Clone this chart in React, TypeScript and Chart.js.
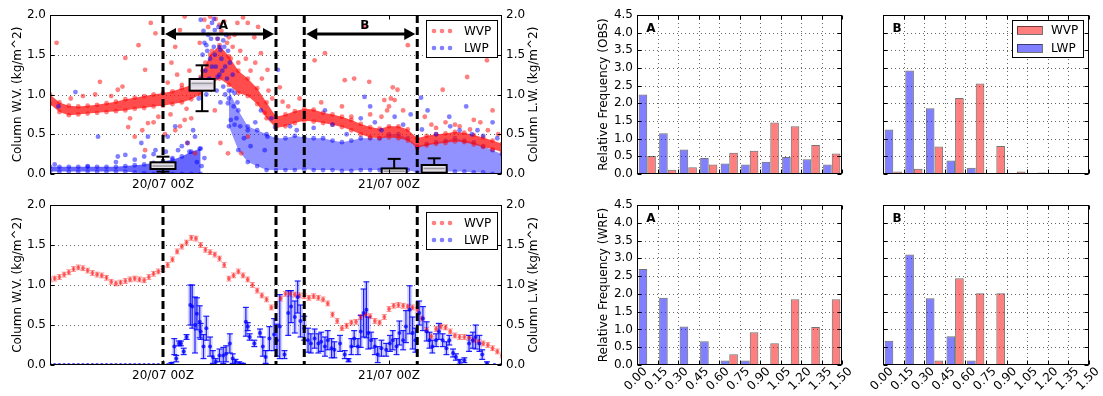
import React, { useEffect, useRef } from 'react';
import { Chart, registerables } from 'chart.js';

Chart.register(...registerables);

const W = 1103;
const H = 396;
const FAMILY = '"DejaVu Sans", "Liberation Sans", sans-serif';
const RED = 'rgba(255,0,0,0.5)';
const BLUE = 'rgba(0,0,255,0.5)';

// ---------------- time axis (hours relative to 20/07 00Z) ----------------
const timeMin = -12;
const timeMax = 36;
const timeTickHours = [0, 24];
const timeTickLabels = ['20/07 00Z', '21/07 00Z'];
const columnTicks = [0, 0.5, 1.0, 1.5, 2.0];
const periodStart = [0, 15];
const periodEnd = [12, 27];
const periodNames = ['A', 'B'];
const arrowLevel = 1.76;
const seriesNames = ['WVP', 'LWP'];
const leftAxisTitle = 'Column W.V. (kg/m^2)';
const rightAxisTitle = 'Column L.W. (kg/m^2)';

// ---------------- OBS time series (top panel) ----------------
const obsWvpBandHours = [-12, -11, -10, -9, -8, -7, -6, -5, -4, -3, -2, -1, 0, 1, 2, 3, 4, 5, 6, 7, 8, 9, 10, 11, 12, 13, 14, 15, 16, 17, 18, 19, 20, 21, 22, 23, 24, 25, 26, 27, 28, 29, 30, 31, 32, 33, 34, 35, 36];
const obsWvpLow = [0.88, 0.78, 0.74, 0.75, 0.76, 0.77, 0.78, 0.79, 0.80, 0.82, 0.83, 0.85, 0.86, 0.88, 0.90, 0.94, 1.00, 1.12, 1.20, 1.12, 1.02, 0.98, 0.88, 0.70, 0.58, 0.60, 0.64, 0.67, 0.66, 0.64, 0.62, 0.59, 0.55, 0.50, 0.46, 0.45, 0.46, 0.45, 0.42, 0.33, 0.36, 0.38, 0.39, 0.41, 0.40, 0.37, 0.34, 0.31, 0.28];
const obsWvpHigh = [1.00, 0.90, 0.86, 0.85, 0.86, 0.87, 0.89, 0.91, 0.94, 0.96, 0.98, 1.00, 1.02, 1.04, 1.08, 1.12, 1.22, 1.50, 1.62, 1.48, 1.30, 1.20, 1.08, 0.90, 0.72, 0.75, 0.79, 0.82, 0.81, 0.77, 0.75, 0.72, 0.68, 0.63, 0.59, 0.57, 0.60, 0.60, 0.56, 0.45, 0.48, 0.50, 0.51, 0.53, 0.52, 0.49, 0.46, 0.42, 0.38];

const obsLwpEarlyHours = [-12, -11, -10, -9, -8, -7, -6, -5, -4, -3, -2, -1, 0, 1, 2, 3, 4];
const obsLwpEarlyLow = [0.03, 0.03, 0.03, 0.03, 0.03, 0.03, 0.03, 0.03, 0.03, 0.02, 0.01, 0.0, 0.0, 0.0, 0.0, 0.0, 0.0];
const obsLwpEarlyHigh = [0.09, 0.09, 0.09, 0.09, 0.09, 0.09, 0.09, 0.09, 0.10, 0.11, 0.12, 0.14, 0.16, 0.18, 0.22, 0.28, 0.32];
const obsLwpLateHours = [7, 8, 9, 10, 11, 12, 13, 14, 15, 16, 17, 18, 19, 20, 21, 22, 23, 24, 25, 26, 27, 28, 29, 30, 31, 32, 33, 34, 35, 36];
const obsLwpLateLow = [0.6, 0.3, 0.15, 0.1, 0.05, 0.05, 0.05, 0.05, 0.06, 0.05, 0.05, 0.05, 0.04, 0.04, 0.05, 0.05, 0.05, 0.05, 0.05, 0.05, 0.02, 0.02, 0.03, 0.03, 0.03, 0.03, 0.02, 0.02, 0.0, 0.0];
const obsLwpLateHigh = [1.05, 0.8, 0.6, 0.55, 0.5, 0.45, 0.45, 0.48, 0.46, 0.45, 0.45, 0.42, 0.40, 0.42, 0.45, 0.45, 0.45, 0.50, 0.50, 0.45, 0.35, 0.38, 0.40, 0.42, 0.45, 0.42, 0.40, 0.35, 0.30, 0.25];

const obsWvpScatter = [
  [-11.3, 1.65], [-6.7, 1.16], [-4.8, 1.06], [-4.0, 1.46], [-2.6, 1.62], [-1.9, 1.31], [-1.3, 1.90], [-0.8, 1.77], [-1.6, 0.64], [-0.5, 0.72],
  [-3.0, 0.47], [-1.9, 0.30], [-3.7, 0.59], [0.9, 1.40], [1.3, 1.60], [1.8, 1.81], [2.3, 1.98], [1.3, 0.55], [2.3, 0.68], [2.6, 0.39],
  [3.4, 0.26], [3.9, 1.65], [4.4, 1.94], [5.5, 0.80], [6.1, 0.39], [6.9, 0.26], [7.9, 1.90], [9.0, 1.90], [9.7, 1.72], [10.4, 1.52],
  [10.1, 1.85], [11.1, 1.31], [10.8, 0.77], [9.0, 0.47], [8.3, 0.26], [12.4, 1.09], [12.7, 0.91], [17.2, 1.52], [16.1, 1.43], [19.3, 1.18],
  [20.3, 1.20], [21.9, 1.16], [23.5, 0.93], [24.4, 1.09], [24.9, 1.06], [24.6, 0.93], [24.0, 0.85], [26.0, 1.62], [21.4, 1.85], [29.7, 1.06],
  [32.3, 1.22], [34.4, 1.43], [35.0, 0.80], [33.0, 0.68], [27.8, 0.72], [28.5, 0.62], [33.7, 0.65], [31.0, 0.62], [23.2, 0.72], [20.0, 0.72],
  [4.5, 1.40], [4.8, 1.85], [5.2, 1.55], [5.6, 1.95], [6.2, 1.80], [6.8, 1.65], [7.2, 1.45], [7.6, 1.75], [8.2, 1.55], [8.8, 1.45],
  [9.3, 1.30], [9.8, 1.40], [10.5, 1.20], [11.2, 1.05], [11.6, 0.95], [-3.5, 0.70], [-2.2, 0.55], [-1.0, 0.65], [0.2, 0.50], [0.8, 0.75],
  [1.8, 0.60], [2.5, 0.82], [3.0, 0.70], [13.3, 0.85], [14.5, 0.95], [16.8, 0.90], [19.0, 0.85], [22.0, 0.75], [23.8, 0.80], [24.2, 0.95],
  [25.5, 0.80], [29.0, 0.58], [30.0, 0.65], [31.5, 0.60], [32.6, 0.56], [34.5, 0.55], [35.6, 0.50], [-8.5, 0.98], [-7.2, 1.00], [-5.5, 0.98],
  [-4.3, 1.10], [-9.8, 0.95], [0.5, 1.15], [1.5, 1.25], [2.0, 1.12], [2.8, 1.30], [5.0, 1.98], [6.5, 1.92], [8.5, 1.97], [5.8, 1.70],
  [6.0, 1.88], [7.0, 1.72], [4.2, 1.30], [7.4, 1.60], [8.0, 1.40],
];

const obsLwpScatter = [
  [-9.3, 1.03], [-11.1, 0.85], [-6.9, 0.47], [-4.8, 0.22], [-4.0, 0.24], [-2.3, 0.39], [-1.6, 0.47], [-0.8, 0.30], [0.5, 0.47], [1.3, 0.60],
  [1.6, 0.30], [2.6, 0.39], [3.4, 0.47], [4.0, 1.94], [4.4, 1.65], [5.5, 1.81], [6.1, 1.56], [6.6, 1.35], [5.1, 1.06], [5.8, 1.22],
  [6.9, 0.89], [7.2, 0.68], [7.6, 1.02], [9.0, 0.55], [10.4, 0.80], [11.1, 0.47], [11.9, 0.59], [12.2, 1.31], [21.4, 0.97], [17.2, 0.80],
  [22.0, 0.85], [24.6, 0.72], [27.4, 0.96], [28.1, 0.80], [32.2, 0.85], [30.4, 0.72], [33.4, 0.55], [35.0, 0.65], [4.2, 1.5], [4.5, 1.3],
  [4.8, 1.75], [5.0, 1.45], [5.2, 1.9], [5.4, 1.6], [5.6, 1.35], [5.8, 1.7], [6.0, 1.25], [6.2, 1.45], [6.4, 1.1], [6.5, 1.6],
  [6.8, 1.2], [7.0, 0.95], [7.3, 1.05], [7.5, 0.85], [7.8, 0.7], [4.6, 1.0], [5.3, 1.15], [6.1, 0.9], [3.8, 0.95], [4.0, 1.2],
  [13.5, 0.6], [14.2, 0.55], [16.0, 0.58], [18.0, 0.62], [19.5, 0.5], [21.0, 0.7], [22.5, 0.65], [23.2, 0.55], [25.5, 0.62], [26.3, 0.75],
  [27.5, 0.56], [29.0, 0.5], [30.5, 0.6], [31.5, 0.55], [32.8, 0.5], [34.0, 0.48], [35.5, 0.45], [-11.5, 0.12], [-8.0, 0.1], [-5.0, 0.15],
  [-3.0, 0.18], [-2.0, 0.22], [-1.0, 0.25], [0.3, 0.28], [1.0, 0.2], [2.0, 0.35], [2.8, 0.28], [3.2, 0.55], [8.2, 0.6], [8.6, 0.45],
  [9.3, 0.35], [9.8, 0.65], [10.8, 0.3], [11.5, 0.7], [4.7, 1.55], [5.1, 1.7], [5.5, 1.5], [5.9, 1.85], [6.3, 1.3], [6.7, 1.75],
  [7.1, 1.4], [4.9, 1.2], [5.7, 1.05], [6.6, 1.0], [4.3, 1.8], [7.4, 1.25], [6.9, 1.55], [5.4, 1.95], [6.0, 1.6], [4.6, 1.62],
  [5.2, 1.35], [6.4, 1.68], [7.6, 0.62], [7.9, 0.9], [4.4, 0.2], [4.1, 0.1], [3.6, 0.15], [3.9, 0.32],
];

// box plots drawn in the OBS panel
const boxHours = [0, 4.15, 24.55, 28.8];
const boxLow = [0.03, 0.79, 0.0, 0.0];
const boxQ1 = [0.063, 1.048, 0.0, 0.017];
const boxMedian = [0.1, 1.14, 0.035, 0.07];
const boxQ3 = [0.147, 1.195, 0.07, 0.113];
const boxHigh = [0.218, 1.367, 0.19, 0.197];

// ---------------- WRF time series (bottom panel) ----------------
const wrfWvpHours = [-12, -11.5, -11, -10.5, -10, -9.5, -9, -8.5, -8, -7.5, -7, -6.5, -6, -5.5, -5, -4.5, -4, -3.5, -3, -2.5, -2, -1.5, -1, -0.5, 0, 0.5, 1, 1.5, 2, 2.5, 3, 3.5, 4, 4.5, 5, 5.5, 6, 6.5, 7, 7.5, 8, 8.5, 9, 9.5, 10, 10.5, 11, 11.5, 12, 12.5, 13, 13.5, 14, 14.5, 15, 15.5, 16, 16.5, 17, 17.5, 18, 18.5, 19, 19.5, 20, 20.5, 21, 21.5, 22, 22.5, 23, 23.5, 24, 24.5, 25, 25.5, 26, 26.5, 27, 27.5, 28, 28.5, 29, 29.5, 30, 30.5, 31, 31.5, 32, 32.5, 33, 33.5, 34, 34.5, 35, 35.5, 36];
const wrfWvpValues = [1.07, 1.08, 1.10, 1.13, 1.16, 1.20, 1.22, 1.21, 1.18, 1.15, 1.13, 1.12, 1.09, 1.04, 1.02, 1.03, 1.05, 1.07, 1.08, 1.07, 1.06, 1.10, 1.14, 1.17, 1.20, 1.25, 1.32, 1.42, 1.48, 1.53, 1.59, 1.58, 1.50, 1.44, 1.41, 1.38, 1.33, 1.25, 1.08, 1.12, 1.17, 1.12, 1.07, 1.00, 0.93, 0.87, 0.82, 0.72, 0.76, 0.83, 0.89, 0.89, 0.88, 0.87, 0.86, 0.84, 0.86, 0.84, 0.82, 0.77, 0.63, 0.55, 0.46, 0.49, 0.53, 0.54, 0.60, 0.63, 0.61, 0.55, 0.53, 0.60, 0.70, 0.74, 0.75, 0.74, 0.73, 0.72, 0.69, 0.58, 0.44, 0.36, 0.45, 0.48, 0.47, 0.42, 0.37, 0.35, 0.35, 0.34, 0.31, 0.29, 0.27, 0.25, 0.21, 0.17, 0.12];
const wrfWvpSpread = 0.03;

// [hour, value, error half-range]
const wrfLwp = [
  [-12, 0, 0], [-11.5, 0, 0], [-11, 0, 0], [-10.5, 0, 0], [-10, 0, 0], [-9.5, 0, 0], [-9, 0, 0], [-8.5, 0, 0], [-8, 0, 0], [-7.5, 0, 0],
  [-7, 0, 0], [-6.5, 0, 0], [-6, 0, 0], [-5.5, 0, 0], [-5, 0, 0], [-4.5, 0, 0], [-4, 0, 0], [-3.5, 0, 0], [-3, 0, 0], [-2.5, 0, 0],
  [-2, 0, 0], [-1.5, 0, 0], [-1, 0, 0], [-0.5, 0, 0], [0, 0, 0], [0.5, 0, 0], [0.9, 0.02, 0.01],
  [1.2, 0.23, 0.1], [1.4, 0.08, 0.04], [1.7, 0.27, 0.03], [1.9, 0.27, 0.03], [2.2, 0.17, 0.04], [2.5, 0.35, 0.03], [2.9, 0.75, 0.25], [3.1, 0.73, 0.27],
  [3.4, 0.50, 0.35], [3.6, 0.64, 0.2], [3.9, 0.54, 0.2], [4.0, 0.42, 0.1], [4.3, 0.23, 0.15], [4.6, 0.46, 0.15], [5.0, 0.23, 0.12], [5.3, 0.10, 0.08],
  [5.6, 0.04, 0.04], [6.0, 0.12, 0.08], [6.4, 0.12, 0.1], [6.7, 0.14, 0.1], [7.1, 0.27, 0.12], [7.4, 0.08, 0.06], [7.7, 0.04, 0.03], [8.1, 0.02, 0.02],
  [8.5, 0.01, 0.01], [8.8, 0.54, 0.18], [9.0, 0.48, 0.05], [9.2, 0.35, 0.04], [9.7, 0.27, 0.04], [10.3, 0.40, 0.05], [10.6, 0.23, 0.12], [10.9, 0.10, 0.08],
  [11.3, 0.33, 0.15], [11.8, 0.38, 0.2], [12.1, 0.31, 0.2], [12.4, 0.48, 0.4], [12.9, 0.13, 0.05], [13.3, 0.65, 0.28], [13.6, 0.73, 0.2], [14.0, 0.60, 0.2],
  [14.3, 0.85, 0.2], [14.6, 0.55, 0.2], [15.0, 0.46, 0.15], [15.4, 0.31, 0.15], [15.7, 0.27, 0.12], [16.1, 0.33, 0.12], [16.5, 0.27, 0.12], [16.8, 0.29, 0.12],
  [17.2, 0.23, 0.12], [17.5, 0.31, 0.12], [17.9, 0.21, 0.12], [18.2, 0.19, 0.1], [18.8, 0.27, 0.1], [19.3, 0.13, 0.05], [19.7, 0.06, 0.02], [20.0, 0.23, 0.1],
  [20.3, 0.33, 0.1], [20.7, 0.23, 0.1], [21.0, 0.42, 0.2], [21.3, 0.65, 0.3], [21.6, 0.69, 0.35], [21.8, 0.40, 0.2], [22.1, 0.31, 0.1], [22.5, 0.23, 0.1],
  [22.8, 0.13, 0.1], [23.2, 0.21, 0.1], [23.7, 0.19, 0.08], [24.1, 0.27, 0.1], [24.4, 0.31, 0.12], [24.8, 0.23, 0.1], [25.1, 0.40, 0.15], [25.5, 0.31, 0.12],
  [25.8, 0.48, 0.2], [26.2, 0.69, 0.3], [26.5, 0.40, 0.2], [26.8, 0.31, 0.15], [27.2, 0.65, 0.15], [27.6, 0.58, 0.15], [28.0, 0.42, 0.12], [28.3, 0.31, 0.1],
  [28.6, 0.23, 0.08], [29.0, 0.31, 0.08], [29.3, 0.42, 0.1], [29.7, 0.31, 0.08], [30.1, 0.21, 0.08], [30.4, 0.31, 0.06], [30.8, 0.15, 0.05], [31.1, 0.10, 0.04],
  [31.5, 0.04, 0.03], [32.0, 0.06, 0.03], [32.5, 0.27, 0.1], [32.9, 0.31, 0.1], [33.2, 0.35, 0.15], [33.6, 0.27, 0.1], [33.9, 0.13, 0.06], [34.4, 0.02, 0.02],
  [35.2, 0, 0], [35.9, 0, 0],
];

// ---------------- histograms ----------------
const histTickLabels = ['0.00', '0.15', '0.30', '0.45', '0.60', '0.75', '0.90', '1.05', '1.20', '1.35', '1.50'];
const histEdges = [0, 0.15, 0.30, 0.45, 0.60, 0.75, 0.90, 1.05, 1.20, 1.35, 1.50];
const freqTicks = [0, 0.5, 1.0, 1.5, 2.0, 2.5, 3.0, 3.5, 4.0, 4.5];
const obsA_LWP = [2.25, 1.15, 0.69, 0.45, 0.30, 0.27, 0.35, 0.48, 0.42, 0.27];
const obsA_WVP = [0.51, 0.12, 0.19, 0.27, 0.60, 0.66, 1.46, 1.35, 0.82, 0.58];
const obsB_LWP = [1.26, 2.93, 1.86, 0.38, 0.18, 0.02, 0.01, 0, 0, 0];
const obsB_WVP = [0.07, 0.15, 0.78, 2.15, 2.56, 0.79, 0.07, 0.04, 0, 0];
const wrfA_LWP = [2.70, 1.89, 1.08, 0.67, 0.13, 0.13, 0, 0, 0, 0];
const wrfA_WVP = [0, 0, 0, 0, 0.30, 0.92, 0.61, 1.85, 1.07, 1.85];
const wrfB_LWP = [0.68, 3.11, 1.88, 0.81, 0.13, 0, 0, 0, 0, 0];
const wrfB_WVP = [0, 0, 0.13, 2.44, 2.02, 2.02, 0, 0, 0, 0];
const histYTitles = ['Relative Frequency (OBS)', 'Relative Frequency (WRF)'];

const histLwp = [obsA_LWP, obsB_LWP, wrfA_LWP, wrfB_LWP];
const histWvp = [obsA_WVP, obsB_WVP, wrfA_WVP, wrfB_WVP];

// ---------------- layout (pixels) ----------------
const TIME_X = [50, 502];
const TIME_Y = { obs: [15, 174], wrf: [205, 365] } as any;
const HIST_X = [[637, 842], [883, 1089]];
const HIST_Y = [[15, 174], [205, 365]];

const tickFont = { family: FAMILY, size: 12 };

function seg(ctx: any, x1: number, y1: number, x2: number, y2: number) {
  ctx.beginPath();
  ctx.moveTo(x1, y1);
  ctx.lineTo(x2, y2);
  ctx.stroke();
}

function frameAndTicks(ctx: any, a: any, xPix: number[], yPix: number[]) {
  ctx.save();
  ctx.setLineDash([]);
  ctx.strokeStyle = '#000';
  ctx.lineWidth = 1;
  const L = Math.round(a.left) + 0.5;
  const R = Math.round(a.right) - 0.5;
  const T = Math.round(a.top) + 0.5;
  const B = Math.round(a.bottom) - 0.5;
  for (const x of xPix) {
    const xx = Math.round(x) + 0.5;
    seg(ctx, xx, B, xx, B - 4);
    seg(ctx, xx, T, xx, T + 4);
  }
  for (const y of yPix) {
    const yy = Math.round(y) + 0.5;
    seg(ctx, L, yy, L + 4, yy);
    seg(ctx, R, yy, R - 4, yy);
  }
  ctx.strokeRect(L, T, R - L, B - T);
  ctx.restore();
}

function dottedGrid(ctx: any, a: any, xPix: number[], yPix: number[]) {
  ctx.save();
  ctx.strokeStyle = 'rgba(0,0,0,0.6)';
  ctx.lineWidth = 1;
  ctx.setLineDash([1, 3]);
  for (const x of xPix) {
    const xx = Math.round(x) + 0.5;
    seg(ctx, xx, a.top, xx, a.bottom);
  }
  for (const y of yPix) {
    const yy = Math.round(y) + 0.5;
    seg(ctx, a.left, yy, a.right, yy);
  }
  ctx.restore();
}

function verticalText(ctx: any, text: string, x: number, y: number) {
  ctx.save();
  ctx.translate(x, y);
  ctx.rotate(-Math.PI / 2);
  ctx.font = `12px ${FAMILY}`;
  ctx.fillStyle = '#000';
  ctx.textAlign = 'center';
  ctx.textBaseline = 'middle';
  ctx.fillText(text, 0, 0);
  ctx.restore();
}

function scatterLegend(ctx: any, x0: number, y0: number) {
  ctx.save();
  ctx.fillStyle = '#fff';
  ctx.fillRect(x0, y0, 71, 37);
  ctx.strokeStyle = '#000';
  ctx.lineWidth = 1;
  ctx.strokeRect(x0 + 0.5, y0 + 0.5, 71, 37);
  const colors = [RED, BLUE];
  ctx.font = `12px ${FAMILY}`;
  ctx.textBaseline = 'middle';
  ctx.textAlign = 'left';
  for (let i = 0; i < 2; i++) {
    const yy = y0 + 11 + i * 17;
    ctx.fillStyle = colors[i];
    for (let k = 0; k < 3; k++) {
      ctx.beginPath();
      ctx.arc(x0 + 8 + k * 8, yy, 2.3, 0, Math.PI * 2);
      ctx.fill();
    }
    ctx.fillStyle = '#000';
    ctx.fillText(seriesNames[i], x0 + 38, yy + 0.5);
  }
  ctx.restore();
}

function patchLegend(ctx: any, x0: number, y0: number) {
  ctx.save();
  ctx.fillStyle = '#fff';
  ctx.fillRect(x0, y0, 71, 37);
  ctx.strokeStyle = '#000';
  ctx.lineWidth = 1;
  ctx.strokeRect(x0 + 0.5, y0 + 0.5, 71, 37);
  const colors = [RED, BLUE];
  ctx.font = `12px ${FAMILY}`;
  ctx.textBaseline = 'middle';
  ctx.textAlign = 'left';
  for (let i = 0; i < 2; i++) {
    const yy = y0 + 10 + i * 18;
    ctx.fillStyle = colors[i];
    ctx.fillRect(x0 + 5, yy - 4, 25, 8);
    ctx.strokeStyle = 'rgba(0,0,0,0.55)';
    ctx.strokeRect(x0 + 5.5, yy - 3.5, 25, 8);
    ctx.fillStyle = '#000';
    ctx.fillText(seriesNames[i], x0 + 39, yy + 0.5);
  }
  ctx.restore();
}

function drawBoxes(ctx: any, xs: any, ys: any) {
  ctx.save();
  for (let i = 0; i < boxHours.length; i++) {
    const cx = xs.getPixelForValue(boxHours[i]);
    const half = 12.5;
    const cap = 6.5;
    const yLo = ys.getPixelForValue(boxLow[i]);
    const yQ1 = ys.getPixelForValue(boxQ1[i]);
    const yMed = ys.getPixelForValue(boxMedian[i]);
    const yQ3 = ys.getPixelForValue(boxQ3[i]);
    const yHi = ys.getPixelForValue(boxHigh[i]);
    ctx.strokeStyle = '#000';
    ctx.lineWidth = 2;
    seg(ctx, cx, yQ3, cx, yHi);
    seg(ctx, cx - cap, yHi, cx + cap, yHi);
    seg(ctx, cx, yQ1, cx, yLo);
    seg(ctx, cx - cap, yLo, cx + cap, yLo);
    const g = ctx.createLinearGradient(0, yQ3, 0, yQ1);
    g.addColorStop(0, '#f6f2f6');
    g.addColorStop(0.5, '#d9d3e2');
    g.addColorStop(1, '#f3ecef');
    ctx.fillStyle = g;
    ctx.fillRect(cx - half, yQ3, 2 * half, yQ1 - yQ3);
    ctx.strokeRect(cx - half, yQ3, 2 * half, yQ1 - yQ3);
    ctx.strokeStyle = '#9a9a9a';
    ctx.lineWidth = 1.5;
    seg(ctx, cx - half + 2, yMed, cx + half - 2, yMed);
  }
  ctx.restore();
}

function drawArrows(ctx: any, xs: any, ys: any) {
  ctx.save();
  const y = ys.getPixelForValue(arrowLevel);
  const hl = 11;
  const hw = 6;
  for (let i = 0; i < periodStart.length; i++) {
    const x1 = xs.getPixelForValue(periodStart[i]) + 2;
    const x2 = xs.getPixelForValue(periodEnd[i]) - 2;
    ctx.strokeStyle = '#000';
    ctx.fillStyle = '#000';
    ctx.lineWidth = 3;
    seg(ctx, x1 + hl - 1, y, x2 - hl + 1, y);
    ctx.beginPath();
    ctx.moveTo(x1, y);
    ctx.lineTo(x1 + hl, y - hw);
    ctx.lineTo(x1 + hl, y + hw);
    ctx.closePath();
    ctx.fill();
    ctx.beginPath();
    ctx.moveTo(x2, y);
    ctx.lineTo(x2 - hl, y - hw);
    ctx.lineTo(x2 - hl, y + hw);
    ctx.closePath();
    ctx.fill();
    ctx.font = `bold 12px ${FAMILY}`;
    ctx.textAlign = 'center';
    ctx.textBaseline = 'middle';
    ctx.fillText(periodNames[i], (x1 + x2) / 2 + 4, y - 8);
  }
  ctx.restore();
}

function drawErrorBars(ctx: any, xs: any, ys: any, pts: number[][], color: string, lineW: number, capHalf: number, shade: string | null) {
  ctx.save();
  for (const p of pts) {
    if (p[2] <= 0) continue;
    const x = xs.getPixelForValue(p[0]);
    const yTop = ys.getPixelForValue(p[1] + p[2]);
    const yBot = ys.getPixelForValue(Math.max(0, p[1] - p[2]));
    if (shade) {
      ctx.fillStyle = shade;
      ctx.fillRect(x - 2.5, yTop, 5, yBot - yTop);
    }
    ctx.strokeStyle = color;
    ctx.lineWidth = lineW;
    seg(ctx, x, yTop, x, yBot);
    seg(ctx, x - capHalf, yTop, x + capHalf, yTop);
    seg(ctx, x - capHalf, yBot, x + capHalf, yBot);
  }
  ctx.restore();
}

function timePlugin(kind: string) {
  return {
    id: 'timeDecor' + kind,
    beforeDatasetsDraw(chart: any) {
      const { ctx, chartArea: a, scales } = chart;
      const ys = scales.y;
      dottedGrid(ctx, a, [], columnTicks.filter((v) => v > 0 && v < 2).map((v) => ys.getPixelForValue(v)));
      if (kind === 'wrf') {
        ctx.save();
        ctx.beginPath();
        ctx.rect(a.left, a.top, a.right - a.left, a.bottom - a.top);
        ctx.clip();
        drawErrorBars(ctx, scales.x, ys, wrfWvpHours.map((h, i) => [h, wrfWvpValues[i], wrfWvpSpread]), 'rgba(255,0,0,0.45)', 1, 2.5, null);
        drawErrorBars(ctx, scales.x, ys, wrfLwp, 'rgba(0,0,255,0.85)', 1.2, 3, 'rgba(60,60,255,0.22)');
        ctx.restore();
      }
    },
    afterDatasetsDraw(chart: any) {
      const { ctx, chartArea: a, scales } = chart;
      const xs = scales.x;
      const ys = scales.y;
      ctx.save();
      ctx.beginPath();
      ctx.rect(a.left, a.top, a.right - a.left, a.bottom - a.top);
      ctx.clip();
      ctx.strokeStyle = '#000';
      ctx.lineWidth = 3;
      ctx.setLineDash([8, 4]);
      for (const h of [...periodStart, ...periodEnd]) {
        const x = xs.getPixelForValue(h);
        seg(ctx, x, a.top, x, a.bottom);
      }
      ctx.setLineDash([]);
      if (kind === 'obs') {
        drawArrows(ctx, xs, ys);
        drawBoxes(ctx, xs, ys);
      }
      ctx.restore();
      frameAndTicks(ctx, a, timeTickHours.map((h) => xs.getPixelForValue(h)), columnTicks.map((v) => ys.getPixelForValue(v)));
      scatterLegend(ctx, a.right - 76, a.top + (kind === 'obs' ? 5 : 7));
      const midY = (a.top + a.bottom) / 2;
      verticalText(ctx, leftAxisTitle, 17.5, midY);
      verticalText(ctx, rightAxisTitle, 534, midY);
    },
  };
}

const xyPoints = (hours: number[], vals: number[]) => hours.map((h, i) => ({ x: h, y: vals[i] }));
const pairPoints = (pairs: number[][]) => pairs.map((p) => ({ x: p[0], y: p[1] }));

function bandDataset(label: string, hours: number[], vals: number[], pointColor: string, fillColor: string | null) {
  return {
    type: 'line',
    label,
    data: xyPoints(hours, vals),
    borderWidth: 0,
    borderColor: 'rgba(0,0,0,0)',
    backgroundColor: fillColor || 'rgba(0,0,0,0)',
    fill: fillColor ? '+1' : false,
    pointRadius: 2.4,
    pointBorderWidth: 0,
    pointBackgroundColor: pointColor,
    tension: 0,
  };
}

function scatterDataset(label: string, data: any[], color: string, r: number) {
  return {
    type: 'scatter',
    label,
    data,
    pointRadius: r,
    pointBorderWidth: 0,
    pointBackgroundColor: color,
    backgroundColor: color,
    borderColor: 'rgba(0,0,0,0)',
    borderWidth: 0,
  };
}

function timeConfig(kind: string) {
  const [top, bottom] = TIME_Y[kind];
  const XH = 20;
  const YL = 50;
  const YR = 40;
  const datasets =
    kind === 'obs'
      ? [
          scatterDataset('LWP', pairPoints(obsLwpScatter), BLUE, 2.4),
          scatterDataset('WVP', pairPoints(obsWvpScatter), RED, 2.4),
          bandDataset('WVP band high', obsWvpBandHours, obsWvpHigh, RED, 'rgba(255,15,15,0.74)'),
          bandDataset('WVP band low', obsWvpBandHours, obsWvpLow, RED, null),
          bandDataset('LWP band high', obsLwpLateHours, obsLwpLateHigh, BLUE, 'rgba(25,25,255,0.48)'),
          bandDataset('LWP band low', obsLwpLateHours, obsLwpLateLow, BLUE, null),
          bandDataset('LWP early high', obsLwpEarlyHours, obsLwpEarlyHigh, BLUE, 'rgba(20,20,255,0.65)'),
          bandDataset('LWP early low', obsLwpEarlyHours, obsLwpEarlyLow, BLUE, null),
        ]
      : [
          scatterDataset('LWP', wrfLwp.map((p) => ({ x: p[0], y: p[1] })), 'rgba(0,0,255,0.75)', 2),
          scatterDataset('WVP', xyPoints(wrfWvpHours, wrfWvpValues), 'rgba(255,0,0,0.55)', 2),
        ];
  const yTicks = {
    stepSize: 0.5,
    padding: 4,
    color: '#000',
    font: tickFont,
    callback: (v: any) => Number(v).toFixed(1),
  };
  const noGrid = { display: false, drawTicks: false, tickLength: 0 };
  return {
    type: 'scatter',
    data: { datasets },
    options: {
      animation: false,
      responsive: false,
      devicePixelRatio: 1,
      events: [],
      layout: {
        padding: { left: TIME_X[0] - YL, right: W - TIME_X[1] - YR, top, bottom: H - bottom - XH },
      },
      plugins: { legend: { display: false }, tooltip: { enabled: false } },
      scales: {
        x: {
          type: 'linear',
          position: 'bottom',
          min: timeMin,
          max: timeMax,
          grid: noGrid,
          border: { display: false },
          afterBuildTicks: (s: any) => {
            s.ticks = timeTickHours.map((v) => ({ value: v }));
          },
          afterFit: (s: any) => {
            s.height = XH;
          },
          ticks: {
            autoSkip: false,
            maxRotation: 0,
            minRotation: 0,
            padding: 4,
            color: '#000',
            font: tickFont,
            callback: (v: any) => {
              const i = timeTickHours.indexOf(Number(v));
              return i >= 0 ? timeTickLabels[i] : '';
            },
          },
        },
        y: {
          type: 'linear',
          position: 'left',
          min: 0,
          max: 2,
          grid: noGrid,
          border: { display: false },
          afterFit: (s: any) => {
            s.width = YL;
          },
          ticks: yTicks,
        },
        y2: {
          type: 'linear',
          position: 'right',
          min: 0,
          max: 2,
          grid: noGrid,
          border: { display: false },
          afterFit: (s: any) => {
            s.width = YR;
          },
          ticks: yTicks,
        },
      },
    },
    plugins: [timePlugin(kind)],
  };
}

function histPlugin(panel: number) {
  const col = panel % 2;
  const row = Math.floor(panel / 2);
  return {
    id: 'histDecor' + panel,
    beforeDatasetsDraw(chart: any) {
      const { ctx, chartArea: a, scales } = chart;
      dottedGrid(
        ctx,
        a,
        histEdges.slice(1, -1).map((v) => scales.x.getPixelForValue(v)),
        freqTicks.slice(1, -1).map((v) => scales.y.getPixelForValue(v))
      );
    },
    afterDatasetsDraw(chart: any) {
      const { ctx, chartArea: a, scales } = chart;
      const xs = scales.x;
      const ys = scales.y;
      frameAndTicks(ctx, a, histEdges.map((v) => xs.getPixelForValue(v)), freqTicks.map((v) => ys.getPixelForValue(v)));
      ctx.save();
      ctx.fillStyle = '#000';
      ctx.font = `bold 12px ${FAMILY}`;
      ctx.textAlign = 'center';
      ctx.textBaseline = 'middle';
      ctx.fillText(periodNames[col], a.left + 14, a.top + 14);
      ctx.restore();
      if (col === 0) verticalText(ctx, histYTitles[row], 604, (a.top + a.bottom) / 2);
      if (row === 1) {
        ctx.save();
        ctx.fillStyle = '#000';
        ctx.font = `12px ${FAMILY}`;
        ctx.textAlign = 'center';
        ctx.textBaseline = 'middle';
        histEdges.forEach((v, i) => {
          const x = xs.getPixelForValue(v);
          ctx.save();
          ctx.translate(x - 1, a.bottom + 14);
          ctx.rotate(-Math.PI / 4);
          ctx.fillText(histTickLabels[i], 0, 0);
          ctx.restore();
        });
        ctx.restore();
      }
      if (panel === 1) patchLegend(ctx, a.right - 77, a.top + 5);
    },
  };
}

function histConfig(panel: number) {
  const col = panel % 2;
  const row = Math.floor(panel / 2);
  const [xl, xr] = HIST_X[col];
  const [yt, yb] = HIST_Y[row];
  const YW = 60;
  const centers = histEdges.slice(0, -1).map((e, i) => (e + histEdges[i + 1]) / 2);
  const barStyle = {
    borderColor: 'rgba(0,0,0,0.55)',
    borderWidth: 1,
    borderSkipped: false,
    categoryPercentage: 0.84,
    barPercentage: 1,
  };
  return {
    type: 'bar',
    data: {
      datasets: [
        { label: 'LWP', data: centers.map((c, i) => ({ x: c, y: histLwp[panel][i] })), backgroundColor: BLUE, ...barStyle },
        { label: 'WVP', data: centers.map((c, i) => ({ x: c, y: histWvp[panel][i] })), backgroundColor: RED, ...barStyle },
      ],
    },
    options: {
      animation: false,
      responsive: false,
      devicePixelRatio: 1,
      events: [],
      layout: {
        padding: { left: col === 0 ? xl - YW : xl, right: W - xr, top: yt, bottom: H - yb },
      },
      plugins: { legend: { display: false }, tooltip: { enabled: false } },
      scales: {
        x: { type: 'linear', min: 0, max: 1.5, offset: false, display: false },
        y: {
          type: 'linear',
          min: 0,
          max: 4.5,
          display: col === 0,
          grid: { display: false, drawTicks: false, tickLength: 0 },
          border: { display: false },
          afterFit: (s: any) => {
            if (col === 0) s.width = YW;
          },
          ticks: {
            stepSize: 0.5,
            padding: 4,
            color: '#000',
            font: tickFont,
            callback: (v: any) => Number(v).toFixed(1),
          },
        },
      },
    },
    plugins: [histPlugin(panel)],
  };
}

export default function App() {
  const canvases = useRef<(HTMLCanvasElement | null)[]>([]);
  useEffect(() => {
    const configs: any[] = [timeConfig('obs'), timeConfig('wrf'), histConfig(0), histConfig(1), histConfig(2), histConfig(3)];
    const charts = configs.map((cfg, i) => new Chart(canvases.current[i] as HTMLCanvasElement, cfg));
    return () => charts.forEach((c) => c.destroy());
  }, []);
  return (
    <div style={{ position: 'absolute', left: 0, top: 0, width: W, height: H, background: '#fff', overflow: 'hidden' }}>
      {[0, 1, 2, 3, 4, 5].map((i) => (
        <canvas
          key={i}
          ref={(el) => {
            canvases.current[i] = el;
          }}
          width={W}
          height={H}
          style={{ position: 'absolute', left: 0, top: 0, width: W, height: H }}
        />
      ))}
    </div>
  );
}
